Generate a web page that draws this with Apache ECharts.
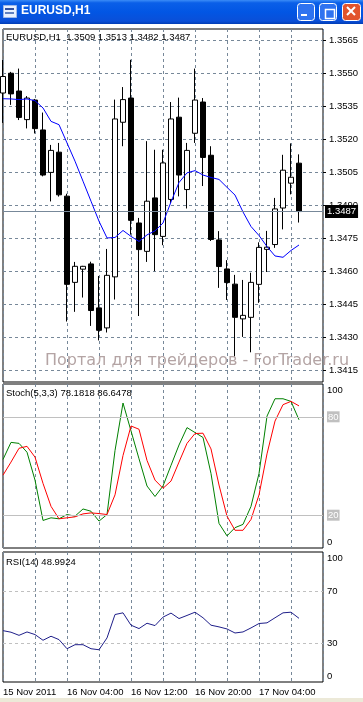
<!DOCTYPE html>
<html><head><meta charset="utf-8">
<script src="https://cdn.jsdelivr.net/npm/echarts/dist/echarts.min.js"></script>
<style>html,body{margin:0;padding:0;background:#fff;}#c{width:363px;height:702px;}</style>
</head><body><div id="c"></div>
<script>
// ---- data ----
const times = ['15 Nov 20:00','15 Nov 21:00','15 Nov 22:00','15 Nov 23:00',
'16 Nov 00:00','16 Nov 01:00','16 Nov 02:00','16 Nov 03:00','16 Nov 04:00','16 Nov 05:00','16 Nov 06:00','16 Nov 07:00',
'16 Nov 08:00','16 Nov 09:00','16 Nov 10:00','16 Nov 11:00','16 Nov 12:00','16 Nov 13:00','16 Nov 14:00','16 Nov 15:00',
'16 Nov 16:00','16 Nov 17:00','16 Nov 18:00','16 Nov 19:00','16 Nov 20:00','16 Nov 21:00','16 Nov 22:00','16 Nov 23:00',
'17 Nov 00:00','17 Nov 01:00','17 Nov 02:00','17 Nov 03:00','17 Nov 04:00','17 Nov 05:00','17 Nov 06:00','17 Nov 07:00',
'17 Nov 08:00','17 Nov 09:00','17 Nov 10:00','17 Nov 11:00','17 Nov 12:00'];
const tickIndex = [0, 8, 16, 24, 32];
const tickLabels = ['15 Nov 2011','16 Nov 04:00','16 Nov 12:00','16 Nov 20:00','17 Nov 04:00'];

const open  = [1.35409,1.35499,1.35418,1.35288,1.35377,1.35241,1.35048,1.35140,1.34940,1.34548,1.34608,1.34632,1.34432,1.34341,1.34573,1.35276,1.35386,1.34818,1.34689,1.34932,1.34757,1.34925,1.35299,1.34970,1.35226,1.35368,1.35126,1.34741,1.34609,1.34540,1.34382,1.34389,1.34539,1.34698,1.34720,1.34886,1.34999,1.3509];
const high  = [1.35559,1.35505,1.35520,1.35395,1.35382,1.35320,1.35173,1.35182,1.34951,1.34641,1.34623,1.34642,1.34577,1.34700,1.35379,1.35436,1.35560,1.34841,1.35190,1.35151,1.35151,1.35368,1.35388,1.35182,1.35520,1.35386,1.35167,1.34781,1.34649,1.34582,1.34559,1.34592,1.34730,1.34782,1.34932,1.35128,1.35180,1.3513];
const low   = [1.35273,1.35355,1.35286,1.35248,1.35225,1.35030,1.34916,1.34938,1.34370,1.34414,1.34479,1.34350,1.34284,1.34320,1.34470,1.35167,1.34765,1.34395,1.34641,1.34599,1.34717,1.34909,1.34939,1.34884,1.35182,1.34986,1.34736,1.34523,1.34468,1.34211,1.34300,1.34230,1.34455,1.34595,1.34705,1.34789,1.34948,1.3482];
const close = [1.35484,1.35405,1.35298,1.35386,1.35247,1.35036,1.35148,1.34946,1.34539,1.34621,1.34621,1.34420,1.34330,1.34580,1.35291,1.35379,1.34830,1.34697,1.34917,1.34765,1.35091,1.35291,1.35036,1.35148,1.35377,1.35116,1.34743,1.34620,1.34547,1.34389,1.34398,1.34548,1.34707,1.34708,1.34882,1.35058,1.35026,1.3487];
const ma    = [1.35383,1.35382,1.35379,1.35382,1.35374,1.35341,1.35280,1.35265,1.35182,1.35099,1.35008,1.34917,1.34826,1.34750,1.34752,1.34784,1.34757,1.34734,1.34764,1.34782,1.34818,1.34914,1.35002,1.35046,1.35056,1.35036,1.35025,1.35016,1.34980,1.34945,1.34868,1.34802,1.34761,1.34711,1.34668,1.34662,1.34693,1.34718];
const stochK = [54.0,64.4,63.8,58.4,41.4,16.8,18.4,17.8,20.4,19.4,23.8,22.4,16.4,20.4,59.4,88.4,71.4,54.4,37.8,31.4,37.8,50.4,62.8,73.4,70.4,67.4,45.4,15.0,7.4,12.4,14.4,25.4,45.4,80.4,91.0,91.0,89.4,78.18];
const stochD = [44.4,52.4,60.8,62.0,55.4,39.4,25.4,17.8,18.4,19.0,20.8,21.4,21.0,20.4,32.4,56.4,74.4,72.4,53.4,41.4,36.4,40.8,52.4,63.8,69.8,70.0,60.4,38.4,19.4,10.8,10.8,17.4,32.4,57.4,77.4,87.4,89.4,86.65];
const rsi = [39.5,38.3,35.9,38.5,36.5,32.1,35.2,32.6,25.6,28.7,28.7,25.6,24.8,33.9,51.9,53.2,43.7,41.1,45.2,43.4,49.9,53.0,48.8,51.2,53.7,49.4,43.7,42.4,40.8,37.7,38.5,41.6,45.0,45.5,49.4,53.2,53.7,48.99];
const bidPrice = 1.3487;
const priceMin = 1.3415, priceMax = 1.3565, priceStep = 0.0015;
const paneMin = 1.34095, paneMax = 1.3570;
const stochLevels = [20, 80];
const rsiLevels = [30, 70];
const headerMain = 'EURUSD,H1  1.3509 1.3513 1.3482 1.3487';
const headerStoch = 'Stoch(5,3,3) 78.1818 86.6478';
const headerRsi = 'RSI(14) 48.9924';
const watermark = 'Портал для трейдеров - ForTrader.ru';
const windowTitle = 'EURUSD,H1';

// ---- chart ----
const FONT = 'Liberation Sans';
const FS = 9.5;
const GRID_C = '#778899';
const candles = open.map((o, i) => [o, close[i], low[i], high[i]]);

function hiddenX(idx, withSplit) {
  return {type:'category', gridIndex: idx, data: times, boundaryGap: false,
    axisLine:{show:false}, axisTick:{show:false}, axisLabel:{show:false},
    splitLine:{show: withSplit, interval: 3, lineStyle:{color: GRID_C, type:[3,3], width:1}}};
}
const xBottom = hiddenX(3, true);
xBottom.axisLabel = {show:true, interval:0, align:'left', margin:5, color:'#000', fontSize:FS, fontFamily:FONT,
  formatter: (v, i) => { const k = tickIndex.indexOf(i); return k >= 0 ? tickLabels[k] : ''; }};

const chart = echarts.init(document.getElementById('c'), null, {renderer:'canvas'});
chart.setOption({
  animation:false,
  backgroundColor:'#fff',
  grid:[
    {left:3, right:40, top:29, height:353, show:true, borderColor:'#000', borderWidth:1, backgroundColor:'transparent', outerBoundsMode:'none'},
    {left:3, right:40, top:40, height:330, show:false, outerBoundsMode:'none'},
    {left:3, right:40, top:384, height:164, show:true, borderColor:'#000', borderWidth:1, backgroundColor:'transparent', outerBoundsMode:'none'},
    {left:3, right:40, top:552, height:130, show:true, borderColor:'#000', borderWidth:1, backgroundColor:'transparent', outerBoundsMode:'none'}
  ],
  xAxis:[hiddenX(0, true), hiddenX(1, false), hiddenX(2, true), xBottom],
  yAxis:[
    {type:'value', gridIndex:0, min:paneMin, max:paneMax, show:false, splitLine:{show:false}},
    {type:'value', gridIndex:1, position:'right', min:priceMin, max:priceMax, interval:priceStep,
      axisLine:{show:false}, axisTick:{show:true, length:3, lineStyle:{color:'#000'}},
      axisLabel:{margin:6, color:'#000', fontSize:FS, fontFamily:FONT, formatter:v=>v.toFixed(4)},
      splitLine:{show:true, lineStyle:{color:GRID_C, type:[3,3], width:1}}},
    {type:'value', gridIndex:2, position:'right', min:0, max:100, interval:20,
      axisLine:{show:false}, axisTick:{show:false}, splitLine:{show:false},
      axisLabel:{margin:4, color:'#000', fontSize:FS, fontFamily:FONT,
        formatter:v=> v===100?'{t|100}': v===0?'{b|0}': (stochLevels.indexOf(v)>=0?'{box|'+v+'}':''),
        rich:{t:{padding:[12,0,0,0], fontSize:FS, fontFamily:FONT}, b:{padding:[0,0,12,0], fontSize:FS, fontFamily:FONT},
          box:{backgroundColor:'#c0c0c0', color:'#fff', padding:[1,1,0,1], fontSize:FS, fontFamily:FONT}}}},
    {type:'value', gridIndex:3, position:'right', min:0, max:100, interval:10,
      axisLine:{show:false}, axisTick:{show:false}, splitLine:{show:false},
      axisLabel:{margin:4, color:'#000', fontSize:FS, fontFamily:FONT,
        formatter:v=> v===100?'{t|100}': v===0?'{b|0}': (rsiLevels.indexOf(v)>=0?String(v):''),
        rich:{t:{padding:[12,0,0,0], fontSize:FS, fontFamily:FONT}, b:{padding:[0,0,12,0], fontSize:FS, fontFamily:FONT}}}}
  ],
  series:[
    {type:'candlestick', xAxisIndex:0, yAxisIndex:0, data:candles, barWidth:5,
      itemStyle:{color:'#fff', color0:'#000', borderColor:'#000', borderColor0:'#000', borderWidth:1},
      markLine:{silent:true, symbol:'none', animation:false, precision:4,
        lineStyle:{color:GRID_C, type:'solid', width:1},
        label:{position:'end', distance:2, formatter:p=>Number(p.value).toFixed(4), backgroundColor:'#000', color:'#fff',
          padding:[2,2,1,2], fontSize:FS, fontFamily:FONT},
        data:[{yAxis:bidPrice}]}},
    {type:'line', xAxisIndex:0, yAxisIndex:0, data:ma, symbol:'none', lineStyle:{color:'#0000ff', width:1}, z:3},
    {type:'line', xAxisIndex:2, yAxisIndex:2, data:stochK, symbol:'none', lineStyle:{color:'#008000', width:1}, z:3,
      markLine:{silent:true, symbol:'none', label:{show:false}, lineStyle:{color:'#c0c0c0', type:'solid', width:1},
        data: stochLevels.map(v=>({yAxis:v}))}},
    {type:'line', xAxisIndex:2, yAxisIndex:2, data:stochD, symbol:'none', lineStyle:{color:'#ff0000', width:1}, z:4},
    {type:'line', xAxisIndex:3, yAxisIndex:3, data:rsi, symbol:'none', lineStyle:{color:'#1f1f8a', width:1}, z:3,
      markLine:{silent:true, symbol:'none', label:{show:false}, lineStyle:{color:'#c0c0c0', type:[3,3], width:1},
        data: rsiLevels.map(v=>({yAxis:v}))}}
  ],
  graphic:[
    {type:'rect', left:0, top:0, shape:{width:363, height:24}, silent:true,
      style:{fill:new echarts.graphic.LinearGradient(0,0,0,1,[
        {offset:0,color:'#3b8cf7'},{offset:0.12,color:'#0a5fe8'},{offset:0.5,color:'#0256e4'},{offset:0.88,color:'#0a4fd8'},{offset:1,color:'#003db5'}])}},
    {type:'rect', left:3, top:5, shape:{width:13, height:12}, style:{fill:'#e8f0ff', stroke:'#9fb8e8'}},
    {type:'rect', left:5, top:8, shape:{width:9, height:2}, style:{fill:'#3050a0'}},
    {type:'rect', left:5, top:12, shape:{width:9, height:2}, style:{fill:'#6080c0'}},
    {type:'text', left:21, top:5, style:{text:windowTitle, fill:'#fff', font:'bold 12px "Liberation Sans"'}},
    {type:'rect', left:297, top:3, shape:{width:17, height:17, r:3}, style:{fill:'#2f73f0', stroke:'#fff', lineWidth:1}},
    {type:'rect', left:301, top:14, shape:{width:6, height:2}, style:{fill:'#fff'}},
    {type:'rect', left:319, top:3, shape:{width:17, height:17, r:3}, style:{fill:'#2f73f0', stroke:'#fff', lineWidth:1}},
    {type:'rect', left:323, top:7, shape:{width:9, height:9}, style:{fill:'none', stroke:'#fff', lineWidth:1.5}},
    {type:'rect', left:342, top:3, shape:{width:18, height:17, r:3}, style:{fill:'#e2542c', stroke:'#fff', lineWidth:1}},
    {type:'line', shape:{x1:347, y1:7, x2:355, y2:15}, style:{stroke:'#fff', lineWidth:2}},
    {type:'line', shape:{x1:355, y1:7, x2:347, y2:15}, style:{stroke:'#fff', lineWidth:2}},
    {type:'rect', left:0, top:698, shape:{width:363, height:4}, style:{fill:'#ece9d8'}},
    {type:'text', left:6, top:32, z:10, style:{text:headerMain, fill:'#000', font:'9.5px "Liberation Sans"'}},
    {type:'text', left:6, top:388, z:10, style:{text:headerStoch, fill:'#000', font:'9.5px "Liberation Sans"'}},
    {type:'text', left:6, top:557, z:10, style:{text:headerRsi, fill:'#000', font:'9.5px "Liberation Sans"'}},
    {type:'text', left:45, top:353, z:10, style:{text:watermark, fill:'#b4a4a4', font:'16px "DejaVu Sans"'}}
  ]
});
</script></body></html>
